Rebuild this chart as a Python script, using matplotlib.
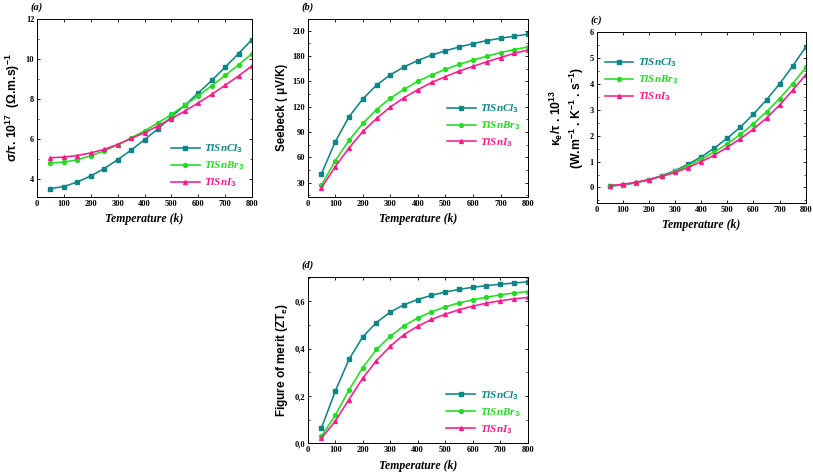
import matplotlib
matplotlib.use("Agg")
import matplotlib.pyplot as plt
from matplotlib.ticker import AutoMinorLocator, FuncFormatter

plt.rcParams["mathtext.fontset"] = "custom"
plt.rcParams["mathtext.rm"] = "Liberation Sans:bold"
plt.rcParams["mathtext.it"] = "Liberation Serif:italic:bold"
plt.rcParams["mathtext.default"] = "rm"

# temperature grid (K)
temps = [50, 100, 150, 200, 250, 300, 350, 400, 450, 500, 550, 600, 650, 700, 750, 800]

# (a) electrical conductivity sigma/tau (1e17)
sigma_cl = [3.52, 3.62, 3.85, 4.15, 4.52, 4.96, 5.44, 5.96, 6.50, 7.10, 7.68, 8.29, 8.92, 9.58, 10.26, 10.96]
sigma_br = [4.80, 4.84, 4.96, 5.16, 5.40, 5.70, 6.05, 6.40, 6.80, 7.22, 7.68, 8.15, 8.65, 9.17, 9.70, 10.25]
sigma_i = [5.06, 5.09, 5.17, 5.30, 5.48, 5.72, 6.02, 6.31, 6.65, 7.01, 7.39, 7.80, 8.22, 8.68, 9.14, 9.65]

# (b) Seebeck coefficient (uV/K)
seebeck_cl = [40.5, 78.5, 108.0, 129.0, 145.5, 157.5, 167.0, 174.5, 181.0, 186.0, 190.5, 194.5, 198.0, 200.8, 203.3, 205.6]
seebeck_br = [27.0, 56.0, 80.0, 100.0, 116.5, 130.0, 140.5, 150.0, 157.5, 164.0, 170.0, 175.0, 179.5, 183.8, 187.5, 190.5]
seebeck_i = [24.0, 49.0, 71.0, 90.5, 106.0, 119.5, 130.5, 140.0, 148.5, 155.5, 162.0, 167.5, 173.0, 178.0, 183.0, 187.0]

# (c) electronic thermal conductivity kappa_e/tau (1e13)
kappa_cl = [0.05, 0.10, 0.18, 0.30, 0.46, 0.65, 0.90, 1.18, 1.52, 1.90, 2.33, 2.83, 3.38, 4.00, 4.68, 5.42]
kappa_br = [0.06, 0.11, 0.19, 0.30, 0.45, 0.62, 0.84, 1.10, 1.37, 1.68, 2.05, 2.46, 2.92, 3.43, 4.00, 4.63]
kappa_i = [0.07, 0.12, 0.20, 0.30, 0.43, 0.58, 0.77, 1.00, 1.24, 1.55, 1.88, 2.25, 2.68, 3.18, 3.75, 4.35]

# (d) figure of merit ZT_e
zt_cl = [0.065, 0.220, 0.355, 0.450, 0.511, 0.555, 0.586, 0.608, 0.626, 0.640, 0.651, 0.660, 0.667, 0.673, 0.678, 0.683]
zt_br = [0.030, 0.118, 0.225, 0.320, 0.397, 0.453, 0.497, 0.530, 0.556, 0.577, 0.594, 0.607, 0.618, 0.628, 0.636, 0.642]
zt_i = [0.022, 0.093, 0.185, 0.275, 0.350, 0.410, 0.460, 0.495, 0.524, 0.546, 0.565, 0.580, 0.593, 0.603, 0.611, 0.617]

labels = ["$\\mathit{TlSnCl_3}$", "$\\mathit{TlSnBr_3}$", "$\\mathit{TlSnI_3}$"]
colors = ["#0f8585", "#22dd22", "#ff1a8c"]
markers = ["s", "o", "^"]

fig = plt.figure(figsize=(8.13, 4.74), dpi=100)

ax_a = fig.add_axes([0.0455, 0.5844, 0.2645, 0.3762])
ax_b = fig.add_axes([0.3785, 0.5844, 0.2710, 0.3762])
ax_c = fig.add_axes([0.7340, 0.5717, 0.2570, 0.3608])
ax_d = fig.add_axes([0.3785, 0.0648, 0.2705, 0.3515])

panels = [
    (ax_a, [sigma_cl, sigma_br, sigma_i], "(a)", (3.1, 12), [4, 6, 8, 10, 12],
     "σ/τ. 10$^{17}$  (Ω.m.s)$^{-1}$", 8.8),
    (ax_b, [seebeck_cl, seebeck_br, seebeck_i], "(b)", (13, 224), list(range(30, 211, 30)),
     "Seebeck ( μV/K)", 8.3),
    (ax_c, [kappa_cl, kappa_br, kappa_i], "(c)", (-0.6, 6), [0, 1, 2, 3, 4, 5, 6],
     "κ$_{e}$/τ . 10$^{13}$\n(W.m$^{-1}$ . K$^{-1}$ . s$^{-1}$)", 8.8),
    (ax_d, [zt_cl, zt_br, zt_i], "(d)", (0, 0.705), [0.0, 0.2, 0.4, 0.6],
     "Figure of merit (ZT$_{e}$)", 8.5),
]

for ax, series, tag, ylim, yticks, ylabel, ysize in panels:
    for vals, lab, col, mk in zip(series, labels, colors, markers):
        ax.plot(temps, vals, color=col, marker=mk, markersize=2.8, linewidth=1.15, label=lab)
    ax.set_xlim(0, 800)
    ax.set_ylim(*ylim)
    ax.set_xticks(range(0, 801, 100))
    ax.set_yticks(yticks)
    ax.yaxis.set_minor_locator(AutoMinorLocator(2))
    ax.tick_params(which="both", direction="in", top=True, right=True, labelsize=6, pad=2)
    ax.tick_params(which="major", length=2.5, width=0.6)
    ax.tick_params(which="minor", length=1.5, width=0.5)
    for t in ax.get_xticklabels() + ax.get_yticklabels():
        t.set_fontfamily("Liberation Serif")
        t.set_fontweight("bold")
    for s in ax.spines.values():
        s.set_linewidth(0.7)
    ax.set_xlabel("Temperature (k)", fontfamily="Liberation Serif", fontweight="bold",
                  fontstyle="italic", fontsize=8.5, labelpad=4)
    ax.set_ylabel(ylabel, fontfamily="Liberation Sans", fontweight="bold", fontsize=ysize, labelpad=3)
    ax.text(-0.03, 1.04, tag, transform=ax.transAxes, fontfamily="Liberation Serif",
            fontweight="bold", fontstyle="italic", fontsize=7.5, ha="left", va="bottom")

ax_d.yaxis.set_major_formatter(FuncFormatter(lambda v, p: f"{v:.1f}".replace(".", ",")))
for t in ax_d.get_yticklabels():
    t.set_fontfamily("Liberation Serif")
    t.set_fontweight("bold")

legend_spots = [
    (ax_a, "lower right", (1.0, 0.0)),
    (ax_b, "center right", (1.0, 0.40)),
    (ax_c, "center left", (0.0, 0.72)),
    (ax_d, "lower right", (1.0, 0.0)),
]
for ax, loc, anchor in legend_spots:
    leg = ax.legend(loc=loc, bbox_to_anchor=anchor, frameon=False, fontsize=8,
                    handlelength=2.6, handletextpad=0.4, labelspacing=0.4, borderaxespad=0.3)
    for txt, col in zip(leg.get_texts(), colors):
        txt.set_color(col)

fig.savefig("out.png", dpi=100)
